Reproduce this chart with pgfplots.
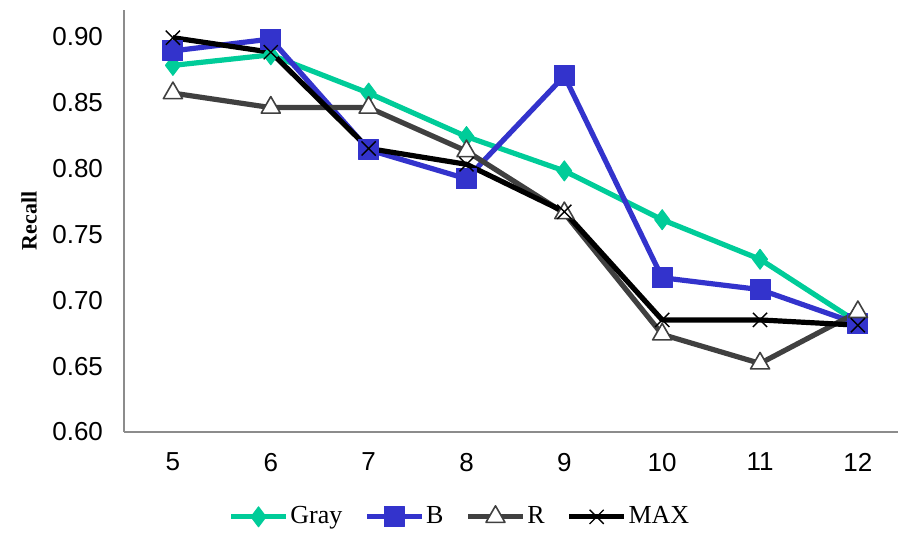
\documentclass[border=0pt]{standalone}
\usepackage{pgfplots}
\pgfplotsset{compat=1.18}
\usepackage{fontspec}
\setmainfont{Liberation Serif}
\newfontfamily\arial{Liberation Sans}

\definecolor{cGray}{HTML}{00CC99}
\definecolor{cB}{HTML}{3333CC}
\definecolor{cR}{HTML}{404040}
\definecolor{cAxis}{HTML}{8C8C8C}

\begin{document}
\begin{tikzpicture}
\begin{axis}[
  scale only axis,
  width=387pt, height=211pt,
  xmin=4.5, xmax=12.41,
  ymin=0.6, ymax=0.92,
  axis lines=left,
  axis line style={-, draw=cAxis, line width=1pt},
  major tick length=0pt,
  xtick={5,...,12},
  ytick={0.60,0.65,...,0.901},
  /pgf/number format/assume math mode=true,
  yticklabel style={/pgf/number format/fixed, /pgf/number format/fixed zerofill,
    /pgf/number format/precision=2, xshift=-7pt},
  ticklabel style={font=\arial\fontsize{13pt}{15pt}\selectfont, text=black},
  xticklabel style={yshift=-7pt},
  ylabel={\textbf{Recall}},
  ylabel style={font=\fontsize{11pt}{13pt}\selectfont, at={(rel axis cs:0,0.5)}, anchor=south, yshift=40pt},
  clip=false,
  every axis plot/.append style={line width=2.6pt, line join=round},
  legend columns=4,
  legend style={draw=none, fill=none, at={(rel axis cs:0.434,-0.201)}, anchor=center,
    font=\fontsize{13pt}{15pt}\selectfont,
    nodes={inner sep=1pt},
    /tikz/every even column/.append style={column sep=10pt}},
  legend image code/.code={
    \draw[mark repeat=2, mark phase=2] plot coordinates {(0cm,0cm) (0.48cm,0cm) (0.96cm,0cm)};
  },
]
\addplot[color=cGray, mark=diamond*, mark size=5pt, mark options={line width=0.5pt, fill=cGray}]
  coordinates {(5,0.878) (6,0.886) (7,0.857) (8,0.824) (9,0.798) (10,0.761) (11,0.731) (12,0.683)};
\addlegendentry{Gray}
\addplot[color=cB, mark=square*, mark size=5pt, mark options={line width=0.5pt, fill=cB}]
  coordinates {(5,0.889) (6,0.898) (7,0.814) (8,0.792) (9,0.870) (10,0.717) (11,0.708) (12,0.682)};
\addlegendentry{B}
\addplot[color=cR, mark=triangle*, mark size=5.5pt, mark options={line width=0.8pt, fill=white, draw=cR}]
  coordinates {(5,0.857) (6,0.846) (7,0.846) (8,0.813) (9,0.766) (10,0.674) (11,0.652) (12,0.691)};
\addlegendentry{R}
\addplot[color=black, mark=x, mark size=5pt, mark options={line width=0.7pt}]
  coordinates {(5,0.899) (6,0.888) (7,0.815) (8,0.803) (9,0.767) (10,0.685) (11,0.685) (12,0.681)};
\addlegendentry{MAX}
\end{axis}
\pgfresetboundingbox
\path[use as bounding box] (-62pt,-50pt) rectangle (387pt,216pt);
\end{tikzpicture}
\end{document}
